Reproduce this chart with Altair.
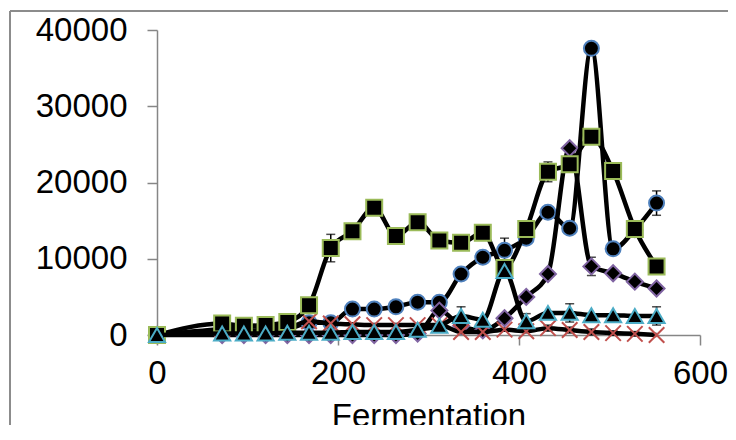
import altair as alt
import pandas as pd

hours = [0, 72, 96, 120, 144, 168, 192, 216, 240, 264, 288, 312, 336, 360, 384, 408, 432, 456, 480, 504, 528, 552]

squares = [0, 1500, 1200, 1300, 1700, 3900, 11400, 13600, 16700, 13000, 14800, 12400, 12100, 13400, 8800, 13900, 21400, 22400, 26000, 21500, 13900, 9000]
squares_err = [0, 0, 0, 0, 0, 0, 1800, 1000, 0, 0, 0, 0, 0, 0, 0, 0, 1300, 0, 0, 0, 0, 0]

circles = [0, 600, 500, 700, 800, 1600, 1600, 3400, 3400, 3700, 4300, 4300, 8000, 10200, 11100, 12700, 16100, 14000, 37600, 11300, 13800, 17300]
circles_err = [0, 0, 0, 0, 0, 0, 0, 0, 0, 0, 0, 0, 0, 0, 1600, 0, 0, 0, 0, 0, 0, 1600]

diamonds = [0, 0, 0, 0, 0, 0, 0, 0, 0, 0, 200, 3200, 1200, 600, 2200, 5000, 8000, 24500, 9000, 8100, 7000, 6100]
diamonds_err = [0, 0, 0, 0, 0, 0, 0, 0, 0, 0, 0, 0, 0, 0, 0, 0, 0, 0, 1200, 0, 0, 0]

triangles = [0, 200, 200, 200, 300, 300, 300, 400, 400, 400, 700, 1200, 2500, 2000, 8400, 1800, 2900, 2900, 2600, 2600, 2500, 2500]
triangles_err = [0, 0, 0, 0, 0, 0, 0, 0, 0, 0, 0, 0, 1200, 0, 0, 1000, 0, 1200, 0, 0, 0, 1200]

crosses = [0, 800, 1000, 1200, 1000, 1800, 1500, 1400, 1300, 1300, 1300, 1300, 400, 400, 700, 500, 900, 650, 400, 250, 150, 0]
crosses_err = [0, 0, 0, 0, 0, 0, 0, 0, 0, 0, 0, 0, 0, 0, 0, 0, 400, 400, 400, 300, 300, 0]

x_ticks = [0, 200, 400, 600]
y_ticks = [0, 10000, 20000, 30000, 40000]
x_title = ["Fermentation", "time (h)"]

FONT = "Liberation Sans"
AXIS_GRAY = "#868686"

x_scale = alt.Scale(domain=[0, 600], nice=False, zero=False)
y_scale = alt.Scale(domain=[0, 40000], nice=False)

x_axis = alt.Axis(values=x_ticks, grid=False, labelFont=FONT, labelFontSize=33,
                  labelColor="black", labelPadding=12, domainColor=AXIS_GRAY, domainWidth=1.5,
                  tickColor=AXIS_GRAY, tickWidth=1.5, tickSize=10, titleFont=FONT, titleFontSize=33,
                  titleFontWeight="normal", titleColor="black", titlePadding=10, labelFlush=False)
y_axis = alt.Axis(values=y_ticks, format="d", grid=False, labelFont=FONT, labelFontSize=33,
                  labelColor="black", labelPadding=20, domainColor=AXIS_GRAY, domainWidth=1.5,
                  tickColor=AXIS_GRAY, tickWidth=1.5, tickSize=10, labelFlush=False)


def make_df(vals, errs):
    df = pd.DataFrame({"hour": hours, "value": vals, "err": errs})
    df["lo"] = df["value"] - df["err"]
    df["hi"] = df["value"] + df["err"]
    return df


def series_layers(vals, errs, shape, stroke, size, filled=True, first=False):
    df = make_df(vals, errs)
    if first:
        x_enc = alt.X("hour:Q", scale=x_scale, axis=x_axis, title=x_title)
        y_enc = alt.Y("value:Q", scale=y_scale, axis=y_axis, title="")
    else:
        x_enc = alt.X("hour:Q", scale=x_scale)
        y_enc = alt.Y("value:Q", scale=y_scale)
    line = alt.Chart(df).mark_line(color="black", strokeWidth=4.5, interpolate="monotone").encode(
        x=x_enc, y=y_enc)
    edf = df[df["err"] > 0]
    err_rule = alt.Chart(edf).mark_rule(color="black", strokeWidth=1.5).encode(
        x=alt.X("hour:Q", scale=x_scale), y=alt.Y("lo:Q", scale=y_scale), y2="hi:Q")
    cap_lo = alt.Chart(edf).mark_tick(color="black", orient="horizontal", size=9, thickness=1.5).encode(
        x=alt.X("hour:Q", scale=x_scale), y=alt.Y("lo:Q", scale=y_scale))
    cap_hi = alt.Chart(edf).mark_tick(color="black", orient="horizontal", size=9, thickness=1.5).encode(
        x=alt.X("hour:Q", scale=x_scale), y=alt.Y("hi:Q", scale=y_scale))
    if filled:
        pts = alt.Chart(df).mark_point(shape=shape, size=size, filled=True, fill="black", stroke=stroke,
                                       strokeWidth=2, opacity=1)
    else:
        pts = alt.Chart(df).mark_point(shape=shape, size=size, filled=False, stroke=stroke,
                                       strokeWidth=2, opacity=1)
    pts = pts.encode(x=alt.X("hour:Q", scale=x_scale), y=alt.Y("value:Q", scale=y_scale))
    return [line, err_rule, cap_lo, cap_hi, pts]


frame_data = alt.Data(values=[{"k": 1}])
frame_top = alt.Chart(frame_data).mark_rule(color="#8c8c8c", strokeWidth=2).encode(
    x=alt.value(-147), x2=alt.value(600), y=alt.value(-19))
frame_left = alt.Chart(frame_data).mark_rule(color="#8c8c8c", strokeWidth=2).encode(
    x=alt.value(-147), y=alt.value(-19), y2=alt.value(430))

layers = [frame_top, frame_left]
layers += series_layers(circles, circles_err, "circle", "#4F81BD", 225, first=True)
layers += series_layers(diamonds, diamonds_err, "diamond", "#8064A2", 256)
layers += series_layers(crosses, crosses_err, "M-1,-1L1,1M-1,1L1,-1", "#C0504D", 240, filled=False)
layers += series_layers(squares, squares_err, "square", "#9BBB59", 256)
layers += series_layers(triangles, triangles_err, "triangle-up", "#4BACC6", 260)

chart = alt.layer(*layers).properties(
    width=543, height=305,
    autosize=alt.AutoSizeParams(type="none"),
    padding={"left": 149, "top": 22, "right": 28, "bottom": 90},
    background="white",
).configure_view(stroke=None)

chart.save("out.html", embed_options={"renderer": "svg", "actions": False})
